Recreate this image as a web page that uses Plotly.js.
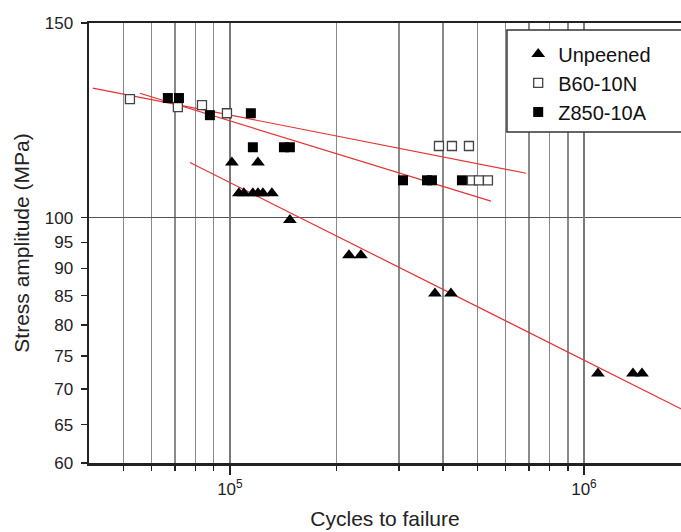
<!DOCTYPE html>
<html>
<head>
<meta charset="utf-8">
<script src="https://cdn.plot.ly/plotly-3.0.1.min.js"></script>
<style>html,body{margin:0;padding:0;background:#fff;}#chart{width:681px;height:532px;}</style>
</head>
<body>
<div id="chart"></div>
<script>
// ---- data ----
const unpeenedN = [101300, 120000, 106000, 109500, 116100, 120000, 123900, 131400, 147700, 216900, 234400, 379300, 421000, 1095000, 1375000, 1458000];
const unpeenedS = [112.2, 112.2, 105.2, 105.2, 105.2, 105.2, 105.2, 105.2, 99.5, 92.5, 92.5, 85.4, 85.4, 72.3, 72.3, 72.3];

const b60N = [52200, 71300, 83400, 98100, 389400, 423700, 473300, 482600, 505000, 535500];
const b60S = [128.0, 125.9, 126.4, 124.3, 116.1, 116.1, 116.1, 108.1, 108.1, 108.1];

const z850N = [66800, 71800, 87800, 114600, 116100, 142100, 147700, 308200, 360200, 372100, 452200];
const z850S = [128.3, 128.3, 123.8, 124.3, 115.8, 115.8, 115.8, 108.1, 108.1, 108.1, 108.1];

// fitted lines (end points)
const fitUnpeenedN = [77100, 2000000];
const fitUnpeenedS = [112.2, 66.5];
const fitB60N = [41000, 686000];
const fitB60S = [131.0, 109.7];
const fitZ850N = [55700, 546000];
const fitZ850S = [129.6, 103.5];

const yTicks = [60, 65, 70, 75, 80, 85, 90, 95, 100, 150];
const xMajorTicks = [1e5, 1e6];
const xMajorLabels = ['10<sup>5</sup>', '10<sup>6</sup>'];
const xMinorTicks = [5e4, 6e4, 7e4, 8e4, 9e4, 2e5, 3e5, 4e5, 5e5, 6e5, 7e5, 8e5, 9e5];

const red = 'rgb(230,50,50)';
const fitLine = (x, y) => ({x, y, type: 'scatter', mode: 'lines', line: {color: red, width: 1.2}, showlegend: false, hoverinfo: 'skip'});

const traces = [
  fitLine(fitB60N, fitB60S),
  fitLine(fitZ850N, fitZ850S),
  fitLine(fitUnpeenedN, fitUnpeenedS),
  {x: unpeenedN, y: unpeenedS, type: 'scatter', mode: 'markers', name: 'Unpeened',
   marker: {symbol: 'triangle-up', size: 12, color: '#000'}},
  {x: b60N, y: b60S, type: 'scatter', mode: 'markers', name: 'B60-10N',
   marker: {symbol: 'square', size: 9, color: '#fff', line: {color: '#444', width: 1.3}}},
  {x: z850N, y: z850S, type: 'scatter', mode: 'markers', name: 'Z850-10A',
   marker: {symbol: 'square', size: 10, color: '#000'}}
];

const fontFam = '"Liberation Sans", Arial, sans-serif';

const layout = {
  width: 681, height: 532,
  margin: {l: 89, r: 0, t: 23, b: 69},
  paper_bgcolor: '#fff', plot_bgcolor: '#fff',
  font: {family: fontFam, color: '#222', size: 17},
  showlegend: true,
  xaxis: {
    type: 'log',
    range: [Math.log10(4e4), 6.274],
    tickmode: 'array', tickvals: xMajorTicks, ticktext: xMajorLabels,
    ticks: 'outside', ticklen: 9, tickwidth: 1.5, tickcolor: '#222',
    showgrid: true, gridcolor: '#7a7a7a', gridwidth: 1.5,
    minor: {tickmode: 'array', tickvals: xMinorTicks, ticks: 'outside', ticklen: 5, tickwidth: 1.5, tickcolor: '#222',
            showgrid: true, gridcolor: '#8a8a8a', gridwidth: 1.5},
    showline: true, linecolor: '#222', linewidth: 2.5, mirror: true,
    zeroline: false,
    tickfont: {size: 17},
    title: {text: 'Cycles to failure', font: {size: 21}, standoff: 14}
  },
  yaxis: {
    type: 'log',
    range: [Math.log10(60), Math.log10(150)],
    tickmode: 'array', tickvals: yTicks, ticktext: yTicks.map(String),
    ticks: 'outside', ticklen: 6, tickwidth: 1.5, tickcolor: '#222',
    ticklabelstandoff: 4,
    showgrid: false,
    minor: {tickmode: 'array', tickvals: [100], ticks: '', showgrid: true, gridcolor: '#555', gridwidth: 1.5},
    showline: true, linecolor: '#222', linewidth: 2.5, mirror: false,
    zeroline: false,
    tickfont: {size: 17},
    title: {text: 'Stress amplitude (MPa)', font: {size: 21}, standoff: 10}
  },
  shapes: [
    {type: 'rect', xref: 'paper', yref: 'paper', x0: 0.706, x1: 1.05, y0: 0.752, y1: 0.984,
     fillcolor: '#fff', line: {color: '#333', width: 1.5}, layer: 'above'}
  ],
  legend: {
    x: 0.725, y: 0.974, xanchor: 'left', yanchor: 'top',
    bgcolor: 'rgba(0,0,0,0)', borderwidth: 0,
    font: {size: 20, family: fontFam, color: '#111'},
    tracegroupgap: 0
  }
};

Plotly.newPlot('chart', traces, layout, {displayModeBar: false, staticPlot: true});
</script>
</body>
</html>
